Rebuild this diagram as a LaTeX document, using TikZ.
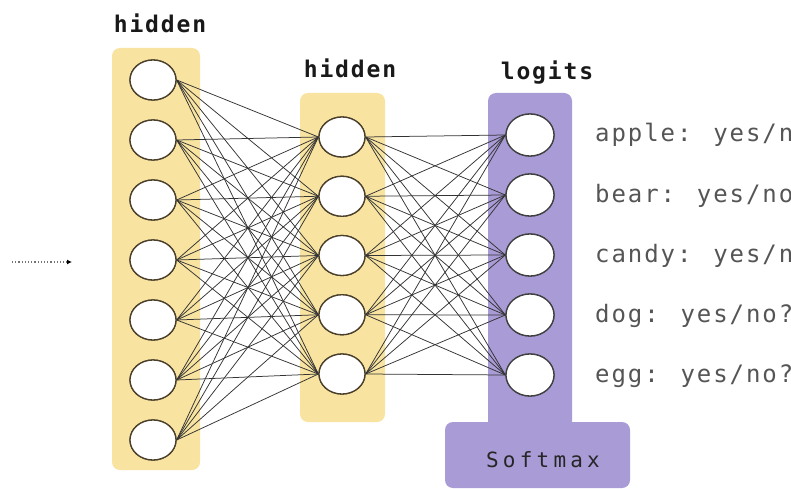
\documentclass[tikz,border=0pt]{standalone}
\usepackage{fontspec}
\usetikzlibrary{shapes.geometric,arrows.meta}
\newfontfamily\labfont[LetterSpace=8]{DejaVu Sans Mono}
\newfontfamily\boxfont[LetterSpace=20]{DejaVu Sans Mono}
\definecolor{layeryellow}{HTML}{F8E3A0}
\definecolor{layerpurple}{HTML}{A99BD6}
\definecolor{edgegray}{HTML}{333333}
\definecolor{ringbrown}{HTML}{4A3F2A}
\definecolor{labelgray}{HTML}{555555}
\begin{document}
\begin{tikzpicture}[x=1pt,y=-1pt,
  unit/.style={ellipse,draw=ringbrown,line width=1.3pt,fill=white,
    minimum width=46pt,minimum height=40pt,inner sep=0pt},
  logit/.style={unit,draw=black!75,minimum width=48pt,minimum height=42pt},
  band/.style={rounded corners=8pt},
  edge/.style={draw=edgegray,line width=0.75pt},
  header/.style={font=\labfont\bfseries\fontsize{23}{24}\selectfont,text=black!90,anchor=base,inner sep=0pt},
  answer/.style={font=\labfont\fontsize{24}{25}\selectfont,text=labelgray,anchor=base west,inner sep=0pt}]
\useasboundingbox (0,0) rectangle (791,489);
\clip (0,0) rectangle (791,489);

% layer backgrounds
\fill[layeryellow,band] (112,48) rectangle (200,470);
\fill[layeryellow,band] (300,93) rectangle (385,422);
\fill[layerpurple,band] (488,93) rectangle (572,440);
\fill[layerpurple,band] (445,422) rectangle (630,488);

% headers
\node[header] (h1) at (160,33) {hidden};
\node[header] (h2) at (350,78) {hidden};
\node[header] (lg) at (547,80) {logits};

% units
\foreach \i in {1,...,7}
  \node[unit] (a\i) at (153,{80+60*(\i-1)}) {};
\foreach \i in {1,...,5}
  \node[unit] (b\i) at (342,{137+59.25*(\i-1)}) {};
\foreach \i in {1,...,5}
  \node[logit] (c\i) at (530,{135+60*(\i-1)}) {};

% fully connected edges
\foreach \i in {1,...,7}
  \foreach \j in {1,...,5}
    \draw[edge] (a\i.east) -- (b\j.west);
\foreach \i in {1,...,5}
  \foreach \j in {1,...,5}
    \draw[edge] (b\i.east) -- (c\j.west);

% redraw units above the edges
\foreach \i in {1,...,7}
  \node[unit] at (a\i) {};
\foreach \i in {1,...,5}
  \node[unit] at (b\i) {};
\foreach \i in {1,...,5}
  \node[logit] at (c\i) {};

% class answers
\node[answer] (t1) at (595,142) {apple: yes/no?};
\node[answer] (t2) at (595,202) {bear: yes/no?};
\node[answer] (t3) at (595,262) {candy: yes/no?};
\node[answer] (t4) at (595,322) {dog: yes/no?};
\node[answer] (t5) at (595,382) {egg: yes/no?};

% softmax label
\node[anchor=base,inner sep=0pt,font=\boxfont\fontsize{21}{22}\selectfont,text=black!85] (sm) at (543,467) {Softmax};

% incoming input arrow
\coordinate (in0) at (12,262);
\coordinate (in1) at (72,262);
\draw[black!55,line width=1.2pt,dotted,-{Latex[length=5pt,width=5pt,black]}] (in0) -- (in1);
\end{tikzpicture}
\end{document}
